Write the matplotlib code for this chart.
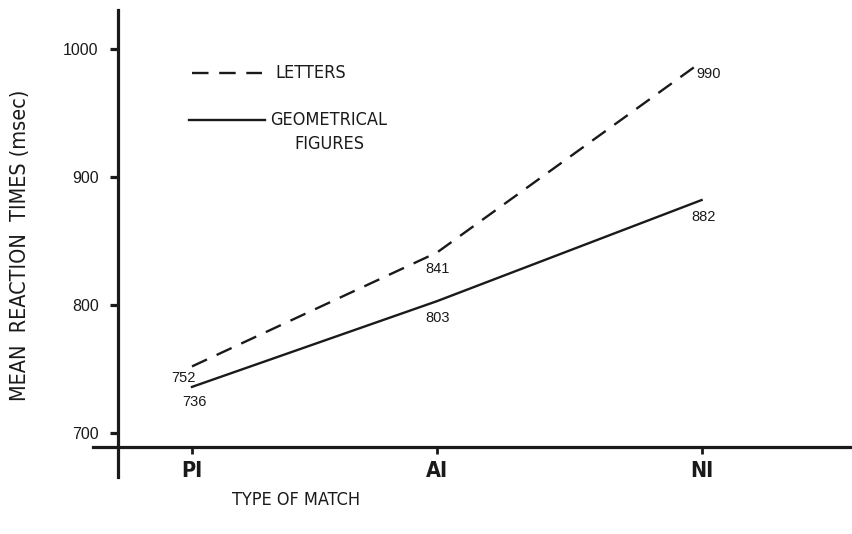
import matplotlib
matplotlib.use("Agg")
import matplotlib.pyplot as plt
from matplotlib.lines import Line2D
from matplotlib import font_manager as fm

# ---- data ----
categories = ["PI", "AI", "NI"]
cat_pos = [0.0, 1.0, 2.08]          # category positions along the x axis
letters = [752, 841, 990]
geometrical = [736, 803, 882]
y_ticks = [700, 800, 900, 1000]
y_tick_labels = ["700", "800", "900", "1000"]
series_names = ["LETTERS", "GEOMETRICAL\nFIGURES"]

SANS = ["Liberation Sans", "DejaVu Sans"]

def narrow(size, weight="normal"):
    return fm.FontProperties(family=["DejaVu Sans"], stretch="condensed",
                             size=size, weight=weight)

fig = plt.figure(figsize=(8.53, 5.34), dpi=100)
ax = fig.add_axes([93 / 853, 57 / 534, 760 / 853, 467 / 534])
ax.set_xlim(-0.404, 2.698)
ax.set_ylim(665.6, 1030.5)

for s in ["top", "right"]:
    ax.spines[s].set_visible(False)
ax.spines["left"].set_position(("data", -0.302))
ax.spines["bottom"].set_position(("data", 689))
for s in ["left", "bottom"]:
    ax.spines[s].set_linewidth(2.3)
    ax.spines[s].set_color("#1a1a1a")

ax.set_yticks(y_ticks)
ax.set_yticklabels(y_tick_labels, fontfamily=SANS, fontsize=11.5)
ax.set_xticks(cat_pos)
ax.set_xticklabels(categories, fontproperties=narrow(15.5, "bold"))
ax.tick_params(axis="y", direction="out", length=6, width=2.3, pad=8, colors="#1a1a1a")
ax.tick_params(axis="x", direction="out", length=5, width=2.0, pad=5, colors="#1a1a1a")

ax.plot(cat_pos, letters, color="#1a1a1a", lw=1.7, dashes=(7, 4.5))
ax.plot(cat_pos, geometrical, color="#1a1a1a", lw=1.7)

# value annotations
let_off = [(-9, -12), (1, -16), (7, -12)]
geo_off = [(2, -15), (1, -17), (2, -17)]
for x, v, o in zip(cat_pos, letters, let_off):
    ax.annotate(str(v), (x, v), xytext=o, textcoords="offset pixels",
                ha="center", va="center", fontfamily=SANS, fontsize=10.5, color="#1a1a1a")
for x, v, o in zip(cat_pos, geometrical, geo_off):
    ax.annotate(str(v), (x, v), xytext=o, textcoords="offset pixels",
                ha="center", va="center", fontfamily=SANS, fontsize=10.5, color="#1a1a1a")

# manual legend (figure pixel coordinates converted to figure fraction)
def fx(px):
    return px / 853
def fy(py):
    return 1 - py / 534

fig.add_artist(Line2D([fx(192), fx(262)], [fy(73), fy(73)], color="#1a1a1a",
                      lw=1.7, dashes=(7, 4.5), transform=fig.transFigure))
fig.add_artist(Line2D([fx(189), fx(265)], [fy(120), fy(120)], color="#1a1a1a",
                      lw=1.7, transform=fig.transFigure))
fig.text(fx(275), fy(73), series_names[0], ha="left", va="center",
         fontproperties=narrow(13), color="#1a1a1a")
fig.text(fx(329), fy(132), series_names[1], ha="center", va="center",
         fontproperties=narrow(13), color="#1a1a1a", linespacing=1.45,
         multialignment="center")

fig.text(fx(20), fy(245), "MEAN  REACTION  TIMES (msec)", rotation=90,
         ha="center", va="center", fontproperties=narrow(15.5), color="#1a1a1a")
fig.text(fx(296), fy(500), "TYPE OF MATCH", ha="center", va="center",
         fontproperties=narrow(13), color="#1a1a1a")

fig.savefig("out.png", dpi=100)
